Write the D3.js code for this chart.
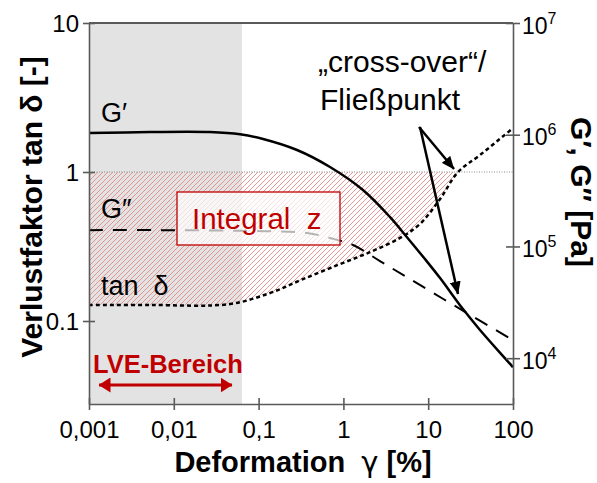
<!DOCTYPE html>
<html>
<head>
<meta charset="utf-8">
<script src="https://cdn.jsdelivr.net/npm/d3@7"></script>
<style>
  body { margin: 0; background: #fff; }
  text { font-family: "Liberation Sans", Arial, sans-serif; }
</style>
</head>
<body>
<svg id="chart"></svg>
<script>
// axis ticks
const xTicks = [0.001, 0.01, 0.1, 1, 10, 100];
const xTickLabels = ["0,001", "0,01", "0,1", "1", "10", "100"];
const leftTicks = [0.1, 1, 10];
const leftTickLabels = ["0.1", "1", "10"];
const rightTicks = [1e4, 1e5, 1e6, 1e7];
const rightExp = ["4", "5", "6", "7"];

// G' storage modulus [Pa] (right axis)
const gammaGp = [0.001, 0.00524, 0.0267, 0.0604, 0.113, 0.284, 0.695, 1.70, 3.55, 5.62, 9.16, 13.8, 25.7, 40.8, 100];
const Gp      = [1.035e6, 1.057e6, 1.057e6, 1.01e6, 9.16e5, 7.3e5, 5.14e5, 3.2e5, 1.83e5, 1.21e5, 7.71e4, 5.21e4, 2.75e4, 1.79e4, 8.3e3];

// G'' loss modulus [Pa] (right axis)
const gammaGpp = [0.001, 0.00687, 0.113, 0.372, 0.695, 1.30, 2.70, 5.62, 21.9, 100];
const Gpp      = [1.40e5, 1.40e5, 1.37e5, 1.32e5, 1.19e5, 1.03e5, 7.4e4, 5.3e4, 2.86e4, 1.45e4];

// tan delta (left axis)
const gammaTan = [0.001, 0.00524, 0.046, 0.136, 0.334, 0.912, 2.06, 4.65, 8.0, 13.8, 22.5, 40.8, 100];
const tanDelta = [0.128, 0.128, 0.130, 0.154, 0.191, 0.241, 0.290, 0.361, 0.448, 0.659, 1.0, 1.30, 1.97];

// linear viscoelastic range
const lveRange = [0.001, 0.0637];

const width = 597, height = 483;
const pLeft = 89, pRight = 513, pTop = 23, pBottom = 404;
const red = "#c00000", axisGrey = "#5a5a5a";

const svg = d3.select("#chart").attr("width", width).attr("height", height);

const x = d3.scaleLog().domain([0.001, 100]).range([pLeft, pRight]);
const yL = d3.scaleLog().domain([Math.pow(10, -1.557), 10]).range([pBottom, pTop]);
const yR = d3.scaleLog().domain([Math.pow(10, 3.59), 1e7]).range([pBottom, pTop]);
const curve = d3.curveCatmullRom.alpha(0.5);

const defs = svg.append("defs");
const pat = defs.append("pattern").attr("id", "hatch")
    .attr("patternUnits", "userSpaceOnUse").attr("width", 5).attr("height", 5);
pat.append("path").attr("d", "M-1,1 L1,-1 M0,5 L5,0 M4,6 L6,4")
    .attr("stroke", "#e48484").attr("stroke-width", 0.85);

defs.append("clipPath").attr("id", "below1").append("rect")
    .attr("x", pLeft).attr("y", yL(1)).attr("width", pRight - pLeft).attr("height", pBottom - yL(1));

function marker(id, color, w, h) {
  defs.append("marker").attr("id", id)
      .attr("viewBox", `0 0 ${w} ${h}`).attr("refX", w - 0.5).attr("refY", h / 2)
      .attr("markerWidth", w).attr("markerHeight", h)
      .attr("markerUnits", "userSpaceOnUse").attr("orient", "auto-start-reverse")
    .append("path").attr("d", `M0,0 L${w},${h / 2} L0,${h} Z`).attr("fill", color);
}
marker("headBlack", "#000", 13, 11);
marker("headRed", red, 12, 15);

// LVE shading
svg.append("rect")
    .attr("x", x(lveRange[0])).attr("y", pTop)
    .attr("width", x(lveRange[1]) - x(lveRange[0])).attr("height", pBottom - pTop)
    .attr("fill", "#e3e3e3");

// hatched integral area between tan d = 1 and tan d curve
const tanData = gammaTan.map((g, i) => [g, tanDelta[i]]);
svg.append("path").datum(tanData)
    .attr("clip-path", "url(#below1)")
    .attr("fill", "url(#hatch)")
    .attr("d", d3.area().curve(curve)
        .x(d => x(d[0])).y0(yL(1)).y1(d => yL(d[1])));

// tan d = 1 reference line
svg.append("line")
    .attr("x1", pLeft).attr("x2", pRight).attr("y1", yL(1)).attr("y2", yL(1))
    .attr("stroke", "#8a8a8a").attr("stroke-width", 1).attr("stroke-dasharray", "1,1.5");

// G''
svg.append("path").datum(gammaGpp.map((g, i) => [g, Gpp[i]]))
    .attr("fill", "none").attr("stroke", "#000").attr("stroke-width", 2)
    .attr("stroke-dasharray", "14,10")
    .attr("d", d3.line().curve(curve).x(d => x(d[0])).y(d => yR(d[1])));

// Integral z box
svg.append("rect")
    .attr("x", 177).attr("y", 192).attr("width", 163).attr("height", 53)
    .attr("fill", "#fff").attr("fill-opacity", 0.7)
    .attr("stroke", red).attr("stroke-width", 1.3);
svg.append("text").attr("x", 192).attr("y", 229)
    .attr("font-size", 29.5).attr("fill", red)
    .text("Integral\u00a0\u00a0z");

// G'
svg.append("path").datum(gammaGp.map((g, i) => [g, Gp[i]]))
    .attr("fill", "none").attr("stroke", "#000").attr("stroke-width", 2.5)
    .attr("d", d3.line().curve(curve).x(d => x(d[0])).y(d => yR(d[1])));

// tan d
svg.append("path").datum(tanData)
    .attr("fill", "none").attr("stroke", "#000").attr("stroke-width", 2.5)
    .attr("stroke-dasharray", "4,3")
    .attr("d", d3.line().curve(curve).x(d => x(d[0])).y(d => yL(d[1])));

// frame top
svg.append("line").attr("x1", pLeft).attr("x2", pRight).attr("y1", pTop).attr("y2", pTop)
    .attr("stroke", axisGrey).attr("stroke-width", 2);

// bottom axis
const gx = svg.append("g").attr("transform", `translate(0,${pBottom})`)
    .call(d3.axisBottom(x).tickValues(xTicks).tickFormat((d, i) => xTickLabels[i])
        .tickSizeInner(6).tickSizeOuter(0));
gx.selectAll(".tick line").attr("y1", -6).attr("y2", 6);
gx.selectAll(".tick text").attr("y", 34).attr("dy", 0)
    .attr("font-size", 24).attr("fill", "#000");

// left axis
const gl = svg.append("g").attr("transform", `translate(${pLeft},0)`)
    .call(d3.axisLeft(yL).tickValues(leftTicks).tickFormat((d, i) => leftTickLabels[i])
        .tickSizeInner(6).tickSizeOuter(0));
gl.selectAll(".tick line").attr("x1", 6).attr("x2", -6);
gl.selectAll(".tick text").attr("x", -10).attr("dy", "0.36em")
    .attr("font-size", 24).attr("fill", "#000");

// right axis
const gr = svg.append("g").attr("transform", `translate(${pRight},0)`)
    .call(d3.axisRight(yR).tickValues(rightTicks).tickFormat("")
        .tickSizeInner(7).tickSizeOuter(0));
gr.selectAll(".tick line").attr("x1", -7).attr("x2", 7);
gr.selectAll(".tick text").remove();
gr.selectAll(".tick").each(function (d, i) {
  const t = d3.select(this).append("text").attr("x", 9).attr("y", 10)
      .attr("font-size", 23).attr("fill", "#000").attr("text-anchor", "start");
  t.append("tspan").text("10");
  t.append("tspan").attr("font-size", 16).attr("dy", -10).text(rightExp[i]);
});

[gx, gl, gr].forEach(g => {
  g.select(".domain").attr("stroke", axisGrey).attr("stroke-width", 1.6);
  g.selectAll(".tick line").attr("stroke", axisGrey).attr("stroke-width", 1.6);
  g.attr("font-family", null);
});

// axis titles
const xt = svg.append("text").attr("x", 303).attr("y", 472).attr("text-anchor", "middle")
    .attr("font-size", 29).attr("font-weight", "bold");
xt.append("tspan").text("Deformation\u00a0\u00a0");
xt.append("tspan").attr("font-family", "DejaVu Sans").attr("font-weight", "normal").text("γ");
xt.append("tspan").text(" [%]");
svg.append("text").attr("transform", "translate(42,207) rotate(-90)")
    .attr("text-anchor", "middle").attr("font-size", 30).attr("font-weight", "bold")
    .text("Verlustfaktor tan δ [-]");
svg.append("text").attr("transform", "translate(571,192) rotate(90)")
    .attr("text-anchor", "middle").attr("font-size", 30).attr("font-weight", "bold")
    .text("G′, G″ [Pa]");

// curve labels
svg.append("text").attr("x", 101).attr("y", 122).attr("font-size", 27).text("G′");
svg.append("text").attr("x", 101).attr("y", 218).attr("font-size", 27).text("G″");
svg.append("text").attr("x", 101).attr("y", 295).attr("font-size", 27).text("tan\u00a0\u00a0δ");

// LVE range
svg.append("text").attr("x", 93).attr("y", 373).attr("font-size", 25.5)
    .attr("font-weight", "bold").attr("fill", red).text("LVE-Bereich");
svg.append("line").attr("x1", 99).attr("x2", 232).attr("y1", 385).attr("y2", 385)
    .attr("stroke", red).attr("stroke-width", 3)
    .attr("marker-start", "url(#headRed)").attr("marker-end", "url(#headRed)");

// cross-over annotation
svg.append("text").attr("x", 318).attr("y", 72).attr("font-size", 30).text("„cross-over“/");
svg.append("text").attr("x", 320).attr("y", 110).attr("font-size", 30).text("Fließpunkt");
svg.append("line").attr("x1", 419).attr("y1", 127).attr("x2", 454).attr("y2", 169)
    .attr("stroke", "#000").attr("stroke-width", 2.5).attr("marker-end", "url(#headBlack)");
svg.append("line").attr("x1", 420).attr("y1", 127).attr("x2", 458).attr("y2", 294)
    .attr("stroke", "#000").attr("stroke-width", 2.5).attr("marker-end", "url(#headBlack)");
</script>
</body>
</html>
